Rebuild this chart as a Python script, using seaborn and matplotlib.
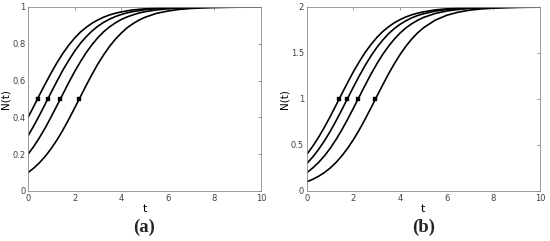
import seaborn as sns
import pandas as pd
import matplotlib.pyplot as plt

# time grid
t = [0, 0.25, 0.5, 0.75, 1, 1.25, 1.5, 1.75, 2, 2.25, 2.5, 2.75, 3, 3.25, 3.5,
     3.75, 4, 4.25, 4.5, 4.75, 5, 5.5, 6, 6.5, 7, 7.5, 8, 8.5, 9, 9.5, 10]

# panel (a), K = 1
a_n01 = [0.1, 0.125, 0.155, 0.190, 0.232, 0.279, 0.332, 0.390, 0.451, 0.513, 0.575,
         0.635, 0.691, 0.741, 0.786, 0.825, 0.858, 0.887, 0.909, 0.928, 0.943,
         0.965, 0.978, 0.987, 0.992, 0.995, 0.997, 0.998, 0.999, 0.999, 1.0]
a_n02 = [0.2, 0.243, 0.292, 0.346, 0.405, 0.466, 0.528, 0.590, 0.649, 0.703, 0.753,
         0.796, 0.834, 0.866, 0.892, 0.914, 0.932, 0.946, 0.957, 0.967, 0.974,
         0.984, 0.990, 0.994, 0.996, 0.998, 0.999, 0.999, 1.0, 1.0, 1.0]
a_n03 = [0.3, 0.355, 0.414, 0.476, 0.538, 0.599, 0.658, 0.711, 0.760, 0.803, 0.839,
         0.870, 0.896, 0.917, 0.934, 0.948, 0.959, 0.968, 0.975, 0.980, 0.985,
         0.991, 0.994, 0.997, 0.998, 0.999, 0.999, 1.0, 1.0, 1.0, 1.0]
a_n04 = [0.4, 0.461, 0.524, 0.585, 0.644, 0.699, 0.749, 0.793, 0.831, 0.864, 0.890,
         0.912, 0.930, 0.945, 0.957, 0.966, 0.973, 0.979, 0.984, 0.987, 0.990,
         0.994, 0.996, 0.998, 0.999, 0.999, 1.0, 1.0, 1.0, 1.0, 1.0]
a_dot_t = [2.2, 1.39, 0.85, 0.41]
a_dot_n = [0.5, 0.5, 0.5, 0.5]

# panel (b), K = 2
b_n01 = [0.1, 0.127, 0.160, 0.200, 0.250, 0.310, 0.382, 0.465, 0.560, 0.666, 0.781,
         0.903, 1.028, 1.151, 1.271, 1.382, 1.484, 1.574, 1.652, 1.718, 1.773,
         1.856, 1.910, 1.944, 1.966, 1.979, 1.987, 1.992, 1.995, 1.997, 1.998]
b_n02 = [0.2, 0.250, 0.310, 0.381, 0.464, 0.559, 0.665, 0.780, 0.902, 1.026, 1.150,
         1.270, 1.381, 1.483, 1.572, 1.650, 1.717, 1.773, 1.818, 1.855, 1.886,
         1.929, 1.956, 1.973, 1.984, 1.990, 1.994, 1.996, 1.998, 1.999, 1.999]
b_n03 = [0.3, 0.369, 0.451, 0.544, 0.648, 0.762, 0.883, 1.008, 1.132, 1.252, 1.365,
         1.468, 1.560, 1.639, 1.708, 1.765, 1.812, 1.850, 1.882, 1.907, 1.926,
         1.955, 1.972, 1.983, 1.990, 1.994, 1.996, 1.998, 1.999, 1.999, 2.0]
b_n04 = [0.4, 0.486, 0.584, 0.692, 0.809, 0.932, 1.057, 1.180, 1.298, 1.406, 1.506,
         1.592, 1.668, 1.732, 1.784, 1.828, 1.863, 1.892, 1.915, 1.933, 1.947,
         1.968, 1.980, 1.988, 1.993, 1.996, 1.997, 1.998, 1.999, 2.0, 2.0]
b_dot_t = [2.94, 2.2, 1.73, 1.39]
b_dot_n = [1.0, 1.0, 1.0, 1.0]

a_ticks = [0, 0.2, 0.4, 0.6, 0.8, 1]
a_ticklabels = ['0', '0.2', '0.4', '0.6', '0.8', '1']
b_ticks = [0, 0.5, 1, 1.5, 2]
b_ticklabels = ['0', '0.5', '1', '1.5', '2']
x_ticks = [0, 2, 4, 6, 8, 10]

sns.set_style('white')
plt.rcParams['font.family'] = ['DejaVu Sans']

fig = plt.figure(figsize=(5.5, 2.41), dpi=100)
ax_a = fig.add_axes([0.051, 0.2075, 0.4236, 0.7635])
ax_b = fig.add_axes([0.558, 0.2075, 0.4236, 0.7635])

gray = '#8c8c8c'
txt = '#404040'

panels = [
    (ax_a, [a_n01, a_n02, a_n03, a_n04], a_dot_t, a_dot_n, 1, a_ticks, a_ticklabels, '(a)'),
    (ax_b, [b_n01, b_n02, b_n03, b_n04], b_dot_t, b_dot_n, 2, b_ticks, b_ticklabels, '(b)'),
]

for ax, curves, dt, dn, ymax, yt, ytl, tag in panels:
    for n in curves:
        df = pd.DataFrame({'t': t, 'N': n})
        sns.lineplot(data=df, x='t', y='N', ax=ax, color='black', linewidth=1.2)
    dots = pd.DataFrame({'t': dt, 'N': dn})
    sns.scatterplot(data=dots, x='t', y='N', ax=ax, color='black', s=10,
                    marker='s', edgecolor='black', zorder=5)
    ax.set_xlim(0, 10)
    ax.set_ylim(0, ymax)
    ax.set_xticks(x_ticks)
    ax.set_xticklabels([str(v) for v in x_ticks])
    ax.set_yticks(yt)
    ax.set_yticklabels(ytl)
    ax.tick_params(direction='in', length=2.5, width=0.6, colors=gray,
                   labelcolor=txt, labelsize=6, top=True, right=True, pad=2)
    for s in ax.spines.values():
        s.set_color(gray)
        s.set_linewidth(0.6)
    ax.set_xlabel('t', fontsize=8, color='black', labelpad=1)
    ax.set_ylabel('N(t)', fontsize=7.5, color='black', labelpad=1)
    pos = ax.get_position()
    fig.text(pos.x0 + pos.width / 2, 1 - 227 / 241, tag, ha='center', va='center',
             fontsize=13.5, fontweight='bold', family='Liberation Serif')

fig.savefig('out.png', dpi=100)
